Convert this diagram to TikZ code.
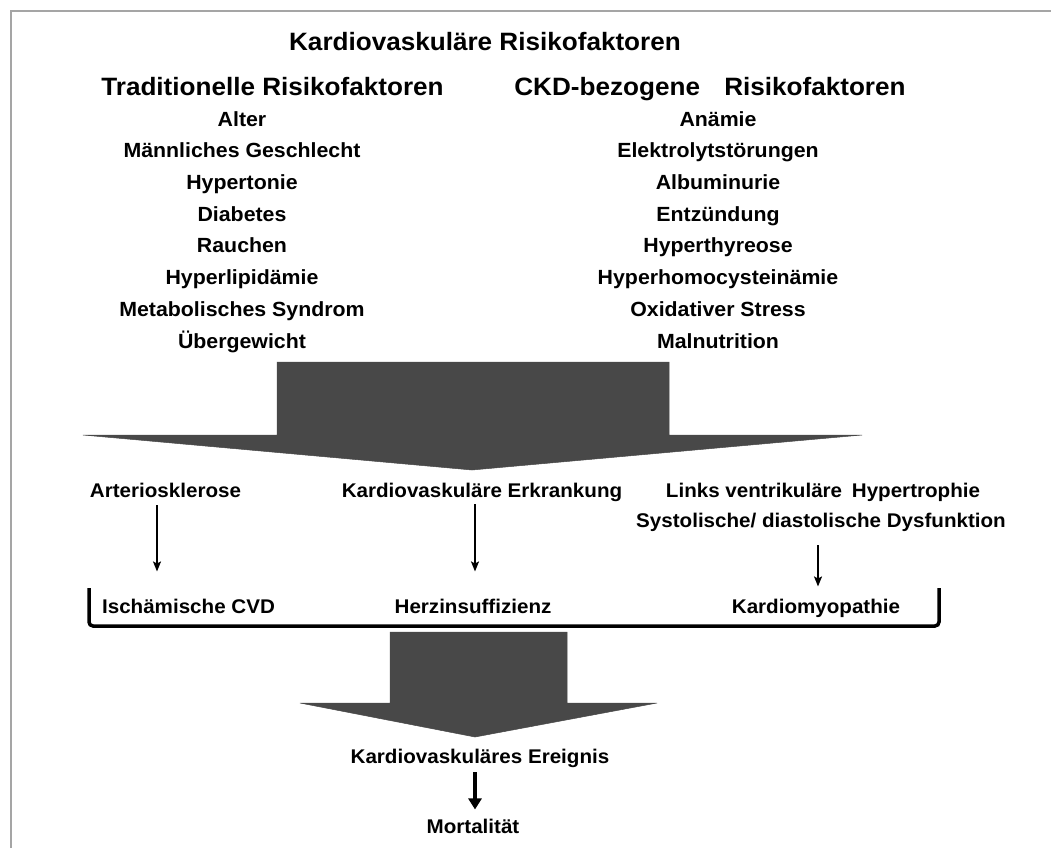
\documentclass[tikz,border=0pt]{standalone}
\usepackage{fontspec}
\setmainfont{Liberation Sans}[FakeStretch=1.04]
\usetikzlibrary{calc,arrows.meta}
\definecolor{bigarrow}{RGB}{72,72,72}
\definecolor{framegray}{RGB}{165,165,165}
\begin{document}
\begin{tikzpicture}[x=1pt,y=-1pt,
  txt/.style={inner sep=0pt, anchor=base, font=\fontsize{19.8}{23}\selectfont\bfseries},
  head/.style={inner sep=0pt, anchor=base, font=\fontsize{25.1}{29}\selectfont\bfseries},
  item/.style={inner sep=0pt, anchor=base, font=\fontsize{20.5}{24}\selectfont\bfseries},
  thinarr/.style={-{Stealth[length=10pt,width=8pt,inset=2pt]}, line width=1.6pt},
  thickarr/.style={-{Triangle[length=11pt,width=13pt]}, line width=4pt},
  bigarr/.style={fill=bigarrow, draw=bigarrow, line width=0.5pt, line join=miter},
  bracket/.style={line width=3.5pt, rounded corners=4pt}
]
\useasboundingbox (0,0) rectangle (1051,848);
\fill[white] (0,0) rectangle (1051,848);
% frame
\draw[framegray, line width=2pt] (11,848) -- (11,11) -- (1051,11);

% titles
\node[head] (title) at (485,51) {Kardiovaskuläre Risikofaktoren};
\node[head] (trad) at (272.5,96) {Traditionelle Risikofaktoren};
\node[head] (ckd) at (710,96) {CKD-bezogene\hspace{17pt} Risikofaktoren};

% left list
\node[item] (l1) at (242,126) {Alter};
\node[item] (l2) at (242,157.7) {Männliches Geschlecht};
\node[item] (l3) at (242,189.4) {Hypertonie};
\node[item] (l4) at (242,221.1) {Diabetes};
\node[item] (l5) at (242,252.8) {Rauchen};
\node[item] (l6) at (242,284.5) {Hyperlipidämie};
\node[item] (l7) at (242,316.2) {Metabolisches Syndrom};
\node[item] (l8) at (242,348) {Übergewicht};

% right list
\node[item] (r1) at (718,126) {Anämie};
\node[item] (r2) at (718,157.7) {Elektrolytstörungen};
\node[item] (r3) at (718,189.4) {Albuminurie};
\node[item] (r4) at (718,221.1) {Entzündung};
\node[item] (r5) at (718,252.8) {Hyperthyreose};
\node[item] (r6) at (718,284.5) {Hyperhomocysteinämie};
\node[item] (r7) at (718,316.2) {Oxidativer Stress};
\node[item] (r8) at (718,348) {Malnutrition};

% big arrow 1
\path[bigarr] (277,362) -- (669,362) -- (669,435) -- (862,435) -- (472,470)
  -- (83,435) -- (277,435) -- cycle;

% middle row
\node[txt] (arter) at (165.5,497) {Arteriosklerose};
\node[txt] (kerk) at (482,497) {Kardiovaskuläre Erkrankung};
\node[txt] (lvh) at (823,497) {Links ventrikuläre\hspace{4pt} Hypertrophie};
\node[txt] (sys) at (821,527) {Systolische/ diastolische Dysfunktion};

\node[txt] (isch) at (188.5,613) {Ischämische CVD};
\node[txt] (herz) at (473,613) {Herzinsuffizienz};
\node[txt] (kmp) at (816,613) {Kardiomyopathie};

\draw[thinarr] ($(arter.south)+(-8.5,8)$) -- ($(isch.north)+(-31.5,-27)$);
\draw[thinarr] ($(kerk.south)+(-7,3)$) -- ($(herz.north)+(2,-27)$);
\draw[thinarr] ($(sys.south)+(-3,14)$) -- ($(kmp.north)+(2,-12)$);

% bracket
\draw[bracket] (89,588) -- (89,626) -- (939,626) -- (939,588);

% big arrow 2
\path[bigarr] (390,632) -- (567,632) -- (567,703) -- (657,703) -- (475,737)
  -- (300,703) -- (390,703) -- cycle;

\node[txt] (ereig) at (480,763) {Kardiovaskuläres Ereignis};
\node[txt] (mort) at (473,833) {Mortalität};
\draw[thickarr] ($(ereig.south)+(-5,5)$) -- ($(mort.north)+(2,-9)$);
\end{tikzpicture}
\end{document}
